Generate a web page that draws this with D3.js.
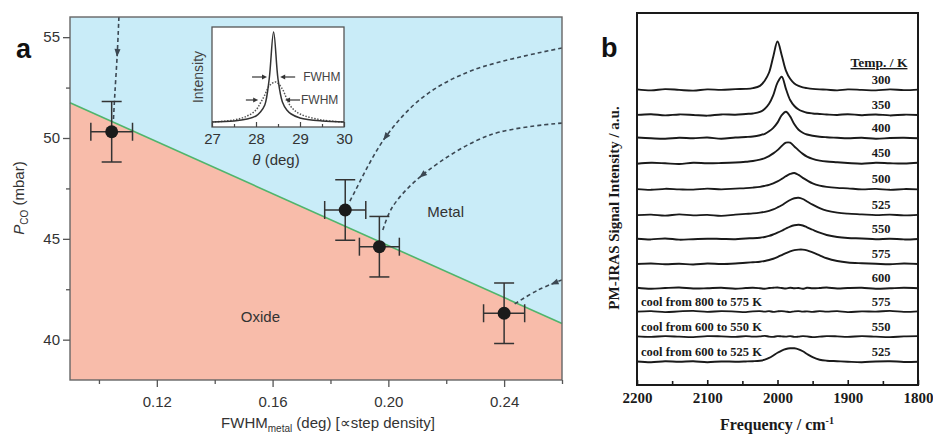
<!DOCTYPE html>
<html><head><meta charset="utf-8">
<script src="https://cdn.jsdelivr.net/npm/d3@7"></script>
<style>body{margin:0;background:#fff;} svg{display:block;}</style>
</head><body><svg id="c" width="933" height="435"></svg>
<script>
// ---------------- Panel a data ----------------
const fwhmMetal = [0.1044, 0.1851, 0.1969, 0.2400];
const pCO = [50.31, 46.43, 44.61, 41.31];
const fwhmErr = [0.0072, 0.0071, 0.0069, 0.0071];
const pcoErr = [1.5, 1.5, 1.5, 1.5];
const boundaryFWHM = [0.09, 0.26];
const boundaryP = [51.75, 40.8];
const xTicksA = [0.12, 0.16, 0.20, 0.24];
const xMinorA = [0.10, 0.14, 0.18, 0.22, 0.26];
const yTicksA = [40, 45, 50, 55];
const yMinorA = [42.5, 47.5, 52.5];
// dashed trajectories (FWHM, pCO) and arrowhead position (fraction of length)
const trajX = [
  [0.1069, 0.1063, 0.1055, 0.1050],
  [0.26, 0.2293, 0.2120, 0.1988, 0.1878, 0.1864],
  [0.26, 0.2351, 0.2127, 0.2015, 0.1978],
  [0.26, 0.2517, 0.2431]
];
const trajY = [
  [56.0, 54.1, 52.2, 50.9],
  [54.46, 53.37, 52.03, 50.0, 47.17, 46.78],
  [50.74, 50.15, 48.27, 46.6, 45.3],
  [42.96, 42.46, 41.72]
];
const trajHead = [0.35, 0.73, 0.68, 0.15];
// inset data
const insetTheta = [27, 27.5, 27.8, 28.0, 28.1, 28.2, 28.3, 28.4, 28.5, 28.6, 28.7, 28.8, 29.0, 29.5, 30];
const insetSharp = [5, 6, 8, 11, 15, 22, 48, 95, 48, 25, 17, 13, 9, 6, 5];
const insetThetaB = [27, 27.5, 27.8, 28.0, 28.1, 28.2, 28.3, 28.45, 28.6, 28.7, 28.8, 29.0, 29.5, 30];
const insetBroad = [5, 7, 11, 17, 24, 32, 41, 45, 38, 28, 20, 13, 7, 5];
const insetTicks = [27, 28, 29, 30];
const insetMinor = [27.5, 28.5, 29.5];

// ---------------- Panel b data ----------------
const freq = [2200,2180,2160,2140,2120,2100,2080,2060,2045,2035,2025,2018,2012,2006,2000,1994,1988,1982,1976,1970,1964,1958,1950,1940,1930,1915,1900,1880,1860,1840,1820,1800];
const tempLabels = ["300","350","400","450","500","525","550","575","600","575","550","525"];
const coolLabels = ["","","","","","","","","","cool from 800 to 575 K","cool from 600 to 550 K","cool from 600 to 525 K"];
const offsets = [11.90, 10.89, 9.95, 8.94, 7.89, 6.85, 5.88, 4.88, 3.90, 2.96, 1.95, 0.94];
const s300 = [0.02,-0.02,0.03,0.00,-0.03,0.02,0.00,0.03, 0.04,0.07,0.16,0.38,0.70,1.35,1.95,1.40,0.78,0.45,0.26,0.16,0.10,0.07,0.04,0.02,0.01, -0.02,0.02,0.00,-0.02,0.02,-0.01,0.01];
const s350 = [0.00,0.03,-0.02,0.02,0.00,-0.03,0.02,0.01, 0.04,0.06,0.12,0.25,0.45,0.80,1.30,1.54,1.05,0.60,0.36,0.22,0.14,0.09,0.06,0.04,0.02, 0.00,0.03,-0.01,0.02,-0.02,0.01,0.00];
const s400 = [0.03,0.00,-0.02,0.02,0.00,0.03,-0.02,0.03, 0.05,0.07,0.12,0.18,0.28,0.42,0.63,0.93,1.07,0.88,0.56,0.34,0.22,0.15,0.10,0.06,0.04, 0.02,0.00,0.02,-0.02,0.01,0.02,0.00];
const s450 = [-0.02,0.02,0.00,-0.03,0.02,0.00,0.01,0.03, 0.06,0.09,0.15,0.21,0.29,0.40,0.53,0.70,0.83,0.83,0.68,0.52,0.38,0.27,0.18,0.11,0.07, 0.04,0.01,-0.02,0.02,0.00,-0.01,0.02];
const s500 = [0.01,-0.02,0.02,0.00,-0.01,0.03,0.00,0.03, 0.05,0.07,0.10,0.14,0.18,0.24,0.32,0.42,0.53,0.62,0.66,0.58,0.46,0.36,0.24,0.15,0.10, 0.06,0.04,0.00,0.02,-0.02,0.01,0.00];
const s525 = [0.00,0.02,-0.02,0.03,-0.01,0.01,-0.03,0.02, 0.05,0.07,0.10,0.13,0.17,0.23,0.31,0.40,0.51,0.61,0.68,0.70,0.65,0.55,0.42,0.28,0.18, 0.10,0.06,0.03,0.00,0.02,-0.01,0.01];
const s550 = [0.02,-0.01,0.03,-0.02,0.00,0.02,0.01,0.00, 0.03,0.04,0.06,0.09,0.13,0.19,0.26,0.34,0.43,0.51,0.56,0.58,0.55,0.48,0.38,0.26,0.17, 0.09,0.05,0.03,0.00,0.02,-0.01,0.01];
const s575 = [0.00,0.02,-0.01,0.01,-0.02,0.02,0.00,0.02, 0.05,0.07,0.09,0.12,0.16,0.21,0.28,0.36,0.44,0.51,0.56,0.58,0.58,0.55,0.47,0.35,0.23, 0.12,0.06,0.03,0.01,-0.01,0.02,0.00];
const s600 = [0.02,-0.02,0.01,0.03,-0.01,0.00,0.02,-0.02, 0.01,0.02,0.00,-0.02,0.01,0.02,0.03,0.01,-0.01,0.02,0.00,0.01,-0.02,0.02,0.00,0.01,0.03, -0.01,0.01,0.02,-0.02,0.00,0.02,0.00];
const sCool575 = [0.00,0.02,-0.02,0.01,0.03,-0.01,0.02,0.00, -0.02,0.01,0.02,0.00,0.02,-0.01,0.01,0.02,0.00,-0.02,0.01,0.02,0.00,0.01,-0.01,0.02,0.00, 0.02,-0.02,0.01,0.00,0.03,-0.01,0.01];
const sCool550 = [0.01,-0.01,0.02,0.00,-0.02,0.02,0.01,-0.01, 0.02,0.00,0.01,0.03,0.00,-0.01,0.02,0.01,0.00,0.02,-0.01,0.00,0.02,0.01,-0.02,0.00,0.02, 0.01,-0.01,0.02,0.00,-0.02,0.01,0.02];
const sCool525 = [0.01,-0.02,0.02,0.00,0.02,-0.02,0.01,0.00, 0.01,0.02,0.04,0.08,0.15,0.25,0.36,0.45,0.51,0.54,0.54,0.50,0.42,0.31,0.18,0.08,0.04, 0.02,0.00,-0.02,0.01,0.02,-0.01,0.00];
const spectra = [s300,s350,s400,s450,s500,s525,s550,s575,s600,sCool575,sCool550,sCool525];
const xTicksB = [2200, 2100, 2000, 1900, 1800];
const xMinorB = [2150, 2050, 1950, 1850];

// ---------------- drawing ----------------
const svg = d3.select("#c");
const SANS = "'Liberation Sans', Arial, Helvetica, sans-serif";
const SERIF = "'Liberation Serif', 'Times New Roman', serif";

// ===== Panel a =====
const ax = d3.scaleLinear().domain([0.09, 0.26]).range([70, 562]);
const ay = d3.scaleLinear().domain([38, 56]).range([380, 17]);
const gA = svg.append("g");
svg.append("defs").append("clipPath").attr("id", "clipA")
  .append("rect").attr("x", ax(0.09)).attr("y", ay(56)).attr("width", ax(0.26) - ax(0.09)).attr("height", ay(38) - ay(56));

const bl = boundaryFWHM.map((f, i) => [f, boundaryP[i]]);
const poly = d3.line().x(d => ax(d[0])).y(d => ay(d[1]));
gA.append("path").attr("d", poly([[0.09, 56], [0.26, 56], bl[1], bl[0]]) + "Z").attr("fill", "#c9ecf8");
gA.append("path").attr("d", poly([bl[0], bl[1], [0.26, 38], [0.09, 38]]) + "Z").attr("fill", "#f8bcaa");
gA.append("path").attr("d", poly(bl)).attr("stroke", "#4fb56c").attr("stroke-width", 1.6).attr("fill", "none");

// dashed trajectories
const trajLine = d3.line().x(d => ax(d[0])).y(d => ay(d[1])).curve(d3.curveCatmullRom.alpha(0.5));
const gT = gA.append("g").attr("clip-path", "url(#clipA)");
trajX.forEach((xs, k) => {
  const pts = xs.map((v, i) => [v, trajY[k][i]]);
  const p = gT.append("path").attr("d", trajLine(pts)).attr("fill", "none")
    .attr("stroke", "#3b4752").attr("stroke-width", 1.6).attr("stroke-dasharray", "4,3");
  const node = p.node(); const L = node.getTotalLength();
  const a = node.getPointAtLength(L * trajHead[k]);
  const b = node.getPointAtLength(Math.min(L, L * trajHead[k] + 2));
  const ang = Math.atan2(b.y - a.y, b.x - a.x) * 180 / Math.PI;
  gT.append("path").attr("d", "M4,0 L-4,-3 L-4,3 Z").attr("fill", "#3b4752")
    .attr("transform", `translate(${a.x},${a.y}) rotate(${ang})`);
});

// frame
gA.append("rect").attr("x", ax(0.09)).attr("y", ay(56)).attr("width", ax(0.26) - ax(0.09)).attr("height", ay(38) - ay(56))
  .attr("fill", "none").attr("stroke", "#666").attr("stroke-width", 1.4);

// axes
function styleAxis(g) { g.select(".domain").remove(); g.selectAll("line").attr("stroke", "#555").attr("stroke-width", 1.3);
  g.selectAll("text").attr("font-family", SANS).attr("font-size", 15).attr("fill", "#333"); }
gA.append("g").attr("transform", `translate(${ax(0.09)},0)`)
  .call(d3.axisLeft(ay).tickValues(yTicksA).tickSize(7).tickPadding(3).tickFormat(d3.format("d"))).call(styleAxis);
gA.append("g").attr("transform", `translate(${ax(0.09)},0)`)
  .call(d3.axisLeft(ay).tickValues(yMinorA).tickSize(4).tickFormat("")).call(styleAxis);
gA.append("g").attr("transform", `translate(0,${ay(38)})`)
  .call(d3.axisBottom(ax).tickValues(xTicksA).tickSize(7).tickPadding(9).tickFormat(d3.format(".2f"))).call(styleAxis);
gA.append("g").attr("transform", `translate(0,${ay(38)})`)
  .call(d3.axisBottom(ax).tickValues(xMinorA).tickSize(4).tickFormat("")).call(styleAxis);

// error bars + points
const gP = gA.append("g");
fwhmMetal.forEach((f, i) => {
  const cx = ax(f), cy = ay(pCO[i]);
  const x0 = ax(f - fwhmErr[i]), x1 = ax(f + fwhmErr[i]);
  const y0 = ay(pCO[i] - pcoErr[i]), y1 = ay(pCO[i] + pcoErr[i]);
  const g = gP.append("g").attr("stroke", "#333").attr("stroke-width", 1.5);
  g.append("line").attr("x1", x0).attr("x2", x1).attr("y1", cy).attr("y2", cy);
  g.append("line").attr("x1", cx).attr("x2", cx).attr("y1", y0).attr("y2", y1);
  g.append("line").attr("x1", x0).attr("x2", x0).attr("y1", cy - 9).attr("y2", cy + 9);
  g.append("line").attr("x1", x1).attr("x2", x1).attr("y1", cy - 9).attr("y2", cy + 9);
  g.append("line").attr("x1", cx - 10).attr("x2", cx + 10).attr("y1", y0).attr("y2", y0);
  g.append("line").attr("x1", cx - 10).attr("x2", cx + 10).attr("y1", y1).attr("y2", y1);
  gP.append("circle").attr("cx", cx).attr("cy", cy).attr("r", 6.5).attr("fill", "#1b1b1b");
});

// region labels
gA.append("text").attr("x", ax(0.2198)).attr("y", ay(46.08)).attr("text-anchor", "middle").attr("font-family", SANS)
  .attr("font-size", 15).attr("fill", "#333").text("Metal");
gA.append("text").attr("x", ax(0.1558)).attr("y", ay(40.88)).attr("text-anchor", "middle").attr("font-family", SANS)
  .attr("font-size", 15).attr("fill", "#333").text("Oxide");

// axis titles
const yl = gA.append("text").attr("transform", "translate(24,198) rotate(-90)").attr("text-anchor", "middle")
  .attr("font-family", SANS).attr("font-size", 15).attr("fill", "#333");
yl.append("tspan").attr("font-style", "italic").text("P");
yl.append("tspan").attr("font-size", 10).attr("dy", 4).text("CO");
yl.append("tspan").attr("dy", -4).text(" (mbar)");
const xl = gA.append("text").attr("x", 328).attr("y", 428).attr("text-anchor", "middle")
  .attr("font-family", SANS).attr("font-size", 15).attr("fill", "#333");
xl.append("tspan").text("FWHM");
xl.append("tspan").attr("font-size", 10).attr("dy", 4).text("metal");
xl.append("tspan").attr("dy", -4).text(" (deg) [\u221Dstep density]");

// panel letter
svg.append("text").attr("x", 16).attr("y", 58).attr("font-family", SANS).attr("font-weight", "bold")
  .attr("font-size", 27).attr("fill", "#111").text("a");

// ===== Inset =====
const ix = d3.scaleLinear().domain([27, 30]).range([212, 344]);
const iy = d3.scaleLinear().domain([0, 100]).range([127, 27]);
const gI = svg.append("g");
gI.append("rect").attr("x", ix(27)).attr("y", iy(100)).attr("width", ix(30) - ix(27)).attr("height", iy(0) - iy(100))
  .attr("fill", "#fff").attr("stroke", "#555").attr("stroke-width", 1.3);
const il = d3.line().curve(d3.curveCatmullRom.alpha(0.5));
gI.append("path").attr("d", il(insetThetaB.map((t, i) => [ix(t), iy(insetBroad[i])])))
  .attr("fill", "none").attr("stroke", "#555").attr("stroke-width", 1.5).attr("stroke-dasharray", "1.5,1.5");
gI.append("path").attr("d", il(insetTheta.map((t, i) => [ix(t), iy(insetSharp[i])])))
  .attr("fill", "none").attr("stroke", "#333").attr("stroke-width", 1.5);
function styleI(g) { g.select(".domain").remove(); g.selectAll("line").attr("stroke", "#444").attr("stroke-width", 1.2);
  g.selectAll("text").attr("font-family", SANS).attr("font-size", 15).attr("fill", "#333"); }
gI.append("g").attr("transform", `translate(0,${iy(0)})`)
  .call(d3.axisBottom(ix).tickValues(insetTicks).tickSize(-5).tickPadding(6).tickFormat(d3.format("d"))).call(styleI);
gI.append("g").attr("transform", `translate(0,${iy(0)})`)
  .call(d3.axisBottom(ix).tickValues(insetMinor).tickSize(-3).tickFormat("")).call(styleI);
gI.append("text").attr("transform", "translate(203,77) rotate(-90)").attr("text-anchor", "middle")
  .attr("font-family", SANS).attr("font-size", 14).attr("fill", "#444").text("Intensity");
const th = gI.append("text").attr("x", 276).attr("y", 165).attr("text-anchor", "middle")
  .attr("font-family", SANS).attr("font-size", 15).attr("fill", "#333");
th.append("tspan").attr("font-style", "italic").text("\u03B8");
th.append("tspan").text(" (deg)");
// FWHM arrows
const fwArrows = [
  {from: 27.91, to: 28.25, lvl: 50}, {from: 28.89, to: 28.55, lvl: 50},
  {from: 27.77, to: 28.05, lvl: 27}, {from: 29.0, to: 28.66, lvl: 27}
];
const fwText = [{x: 29.05, lvl: 50}, {x: 29.0, lvl: 27}];
fwArrows.forEach(a => {
  const x0 = ix(a.from), x1 = ix(a.to), y = iy(a.lvl), dir = Math.sign(x1 - x0);
  gI.append("line").attr("x1", x0).attr("x2", x1 - dir * 3).attr("y1", y).attr("y2", y).attr("stroke", "#333").attr("stroke-width", 1.2);
  gI.append("path").attr("d", `M${x1},${y} L${x1 - dir * 5},${y - 2.5} L${x1 - dir * 5},${y + 2.5} Z`).attr("fill", "#333");
});
fwText.forEach(t => gI.append("text").attr("x", ix(t.x) + 1).attr("y", iy(t.lvl) + 4).attr("font-family", SANS)
  .attr("font-size", 12).attr("fill", "#444").text("FWHM"));

// ===== Panel b =====
const bx = d3.scaleLinear().domain([2200, 1800]).range([637, 918]);
const by = d3.scaleLinear().domain([0, 15]).range([385, 13]);
const gB = svg.append("g");
const specLine = d3.line().x(d => bx(d[0])).y(d => by(d[1])).curve(d3.curveCatmullRom.alpha(0.5));
spectra.forEach((s, k) => {
  gB.append("path").attr("d", specLine(freq.map((f, i) => [f, s[i] + offsets[k]])))
    .attr("fill", "none").attr("stroke", "#1a1a1a").attr("stroke-width", 1.9).attr("stroke-linejoin", "round");
  gB.append("text").attr("x", 881).attr("y", by(offsets[k]) - 6).attr("text-anchor", "middle")
    .attr("font-family", SERIF).attr("font-weight", "bold").attr("font-size", 12.5).attr("fill", "#1a1a1a").text(tempLabels[k]);
  if (coolLabels[k]) gB.append("text").attr("x", 641).attr("y", by(offsets[k]) - 6)
    .attr("font-family", SERIF).attr("font-weight", "bold").attr("font-size", 12.5).attr("fill", "#1a1a1a").text(coolLabels[k]);
});
gB.append("text").attr("x", 879).attr("y", 67).attr("text-anchor", "middle").attr("font-family", SERIF)
  .attr("font-weight", "bold").attr("font-size", 13.5).attr("fill", "#1a1a1a").attr("text-decoration", "underline").text("Temp. / K");
gB.append("rect").attr("x", 637).attr("y", 13).attr("width", 281).attr("height", 372)
  .attr("fill", "none").attr("stroke", "#1a1a1a").attr("stroke-width", 2);
function styleB(g) { g.select(".domain").remove(); g.selectAll("line").attr("stroke", "#1a1a1a").attr("stroke-width", 1.6);
  g.selectAll("text").attr("font-family", SERIF).attr("font-weight", "bold").attr("font-size", 15).attr("fill", "#1a1a1a"); }
gB.append("g").attr("transform", "translate(0,385)")
  .call(d3.axisBottom(bx).tickValues(xTicksB).tickSize(-5).tickPadding(7).tickFormat(d3.format("d"))).call(styleB);
gB.append("g").attr("transform", "translate(0,385)")
  .call(d3.axisBottom(bx).tickValues(xMinorB).tickSize(-4).tickFormat("")).call(styleB);
const fl = gB.append("text").attr("x", 777).attr("y", 430).attr("text-anchor", "middle").attr("font-family", SERIF)
  .attr("font-weight", "bold").attr("font-size", 16).attr("fill", "#1a1a1a");
fl.append("tspan").text("Frequency / cm");
fl.append("tspan").attr("font-size", 10).attr("dy", -6).text("-1");
gB.append("text").attr("transform", "translate(619,208) rotate(-90)").attr("text-anchor", "middle")
  .attr("font-family", SERIF).attr("font-weight", "bold").attr("font-size", 15).attr("fill", "#1a1a1a")
  .text("PM-IRAS Signal Intensity / a.u.");
svg.append("text").attr("x", 601).attr("y", 57).attr("font-family", SANS).attr("font-weight", "bold")
  .attr("font-size", 27).attr("fill", "#111").text("b");
</script></body></html>
